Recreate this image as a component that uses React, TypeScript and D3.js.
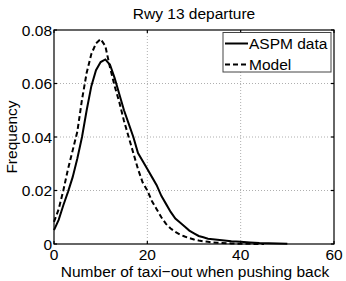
import React, { useEffect, useRef } from 'react';
import * as d3 from 'd3';

// taxi-out counts (x) and frequencies
const aspmX = [0, 1, 2, 3, 4, 5, 6, 7, 8, 9, 10, 11, 12, 13, 14, 15, 16, 17, 18, 19, 20, 21, 22, 23, 24, 25, 26, 27, 28, 29, 30, 31, 32, 33, 34, 35, 36, 37, 38, 39, 40, 42, 44, 46, 48, 50];
const aspmY = [0.0052, 0.009, 0.0145, 0.0195, 0.025, 0.032, 0.040, 0.050, 0.059, 0.065, 0.068, 0.069, 0.067, 0.062, 0.056, 0.050, 0.045, 0.040, 0.034, 0.031, 0.028, 0.025, 0.022, 0.018, 0.015, 0.012, 0.0095, 0.008, 0.0065, 0.005, 0.004, 0.003, 0.0025, 0.002, 0.0018, 0.0016, 0.0014, 0.0012, 0.001, 0.0009, 0.0008, 0.0006, 0.0004, 0.0003, 0.0002, 0.0001];

const modelX = [0, 1, 2, 3, 4, 5, 6, 7, 8, 9, 10, 11, 12, 13, 14, 15, 16, 17, 18, 19, 20, 21, 22, 23, 24, 25, 26, 27, 28, 29, 30, 31, 32, 33, 34, 35, 36, 38, 40, 42, 45];
const modelY = [0.0083, 0.013, 0.020, 0.028, 0.035, 0.042, 0.054, 0.064, 0.071, 0.075, 0.0766, 0.074, 0.066, 0.059, 0.053, 0.046, 0.040, 0.034, 0.028, 0.023, 0.020, 0.016, 0.013, 0.010, 0.0075, 0.0058, 0.0045, 0.0035, 0.0028, 0.0022, 0.0017, 0.0013, 0.001, 0.0008, 0.0006, 0.0005, 0.0004, 0.0002, 0.0001, 0.00005, 0];

const xTicks = [0, 20, 40, 60];
const yTicks = [0, 0.02, 0.04, 0.06, 0.08];
const yTickLabels = ['0', '0.02', '0.04', '0.06', '0.08'];

const legendItems = [
    { text: 'ASPM data', dash: null },
    { text: 'Model', dash: '5,3' }
];

const width = 346;
const height = 281;
const font = '"Liberation Sans", Arial, Helvetica, sans-serif';

const App = () => {
    const ref = useRef(null);

    // plot box
    const left = 54;
    const right = 334;
    const top = 30;
    const bottom = 244;

    useEffect(() => {
        const svg = d3.select(ref.current);
        svg.selectAll('*').remove();

        const x = d3.scaleLinear().domain([0, 60]).range([left, right]);
        const y = d3.scaleLinear().domain([0, 0.08]).range([bottom, top]);

        svg.append('rect')
            .attr('width', width).attr('height', height)
            .attr('fill', '#fff');

        // grid
        const grid = svg.append('g')
            .attr('stroke', '#9a9a9a')
            .attr('stroke-width', 0.8)
            .attr('stroke-dasharray', '1,2');
        grid.selectAll('.vg')
            .data(xTicks.slice(1, -1))
            .enter().append('line')
            .attr('x1', d => x(d)).attr('x2', d => x(d))
            .attr('y1', top).attr('y2', bottom);
        grid.selectAll('.hg')
            .data(yTicks.slice(1, -1))
            .enter().append('line')
            .attr('x1', left).attr('x2', right)
            .attr('y1', d => y(d)).attr('y2', d => y(d));

        // curves
        const line = d3.line().x(d => x(d[0])).y(d => y(d[1]));
        svg.append('path')
            .datum(aspmX.map((v, i) => [v, aspmY[i]]))
            .attr('d', line)
            .attr('fill', 'none')
            .attr('stroke', '#000')
            .attr('stroke-width', 2);
        svg.append('path')
            .datum(modelX.map((v, i) => [v, modelY[i]]))
            .attr('d', line)
            .attr('fill', 'none')
            .attr('stroke', '#000')
            .attr('stroke-width', 2)
            .attr('stroke-dasharray', '5,3');

        // box + inward ticks
        const axes = svg.append('g').attr('stroke', '#000').attr('stroke-width', 1.2);
        axes.append('rect')
            .attr('x', left).attr('y', top)
            .attr('width', right - left).attr('height', bottom - top)
            .attr('fill', 'none');
        const tl = 3;
        xTicks.forEach(t => {
            axes.append('line').attr('x1', x(t)).attr('x2', x(t)).attr('y1', bottom).attr('y2', bottom - tl);
            axes.append('line').attr('x1', x(t)).attr('x2', x(t)).attr('y1', top).attr('y2', top + tl);
        });
        yTicks.forEach(t => {
            axes.append('line').attr('x1', left).attr('x2', left + tl).attr('y1', y(t)).attr('y2', y(t));
            axes.append('line').attr('x1', right).attr('x2', right - tl).attr('y1', y(t)).attr('y2', y(t));
        });

        // tick labels
        svg.selectAll('.xt')
            .data(xTicks)
            .enter().append('text')
            .attr('x', d => x(d))
            .attr('y', 259.5)
            .attr('text-anchor', 'middle')
            .style('font-family', font)
            .style('font-size', '15.5px')
            .text(d => d);
        svg.selectAll('.yt')
            .data(yTicks)
            .enter().append('text')
            .attr('x', left - 2)
            .attr('y', d => y(d) + 5.5)
            .attr('text-anchor', 'end')
            .style('font-family', font)
            .style('font-size', '15.5px')
            .text((d, i) => yTickLabels[i]);

        // labels
        svg.append('text')
            .attr('x', 194).attr('y', 18.5)
            .attr('text-anchor', 'middle')
            .style('font-family', font).style('font-size', '15.5px')
            .text('Rwy 13 departure');
        svg.append('text')
            .attr('x', 195).attr('y', 276.5)
            .attr('text-anchor', 'middle')
            .style('font-family', font).style('font-size', '15.5px')
            .text('Number of taxi\u2212out when pushing back');
        svg.append('text')
            .attr('transform', 'translate(16.5,137) rotate(-90)')
            .attr('text-anchor', 'middle')
            .style('font-family', font).style('font-size', '15.5px')
            .text('Frequency');

        // legend
        const lg = svg.append('g');
        lg.append('rect')
            .attr('x', 223).attr('y', 32.5)
            .attr('width', 108).attr('height', 39.5)
            .attr('fill', '#fff')
            .attr('stroke', '#444')
            .attr('stroke-width', 1);
        const entries = lg.selectAll('.le')
            .data(legendItems)
            .enter().append('g')
            .attr('transform', (d, i) => `translate(0,${43.5 + i * 21})`);
        entries.append('line')
            .attr('x1', 225).attr('x2', 248)
            .attr('stroke', '#000')
            .attr('stroke-width', 2)
            .attr('stroke-dasharray', d => d.dash);
        entries.append('text')
            .attr('x', 249).attr('y', 5.5)
            .style('font-family', font).style('font-size', '15.5px')
            .text(d => d.text);
    }, []);

    return <svg ref={ref} width={width} height={height} style={{ position: 'absolute', left: 0, top: 0 }}></svg>;
};

export default App;
